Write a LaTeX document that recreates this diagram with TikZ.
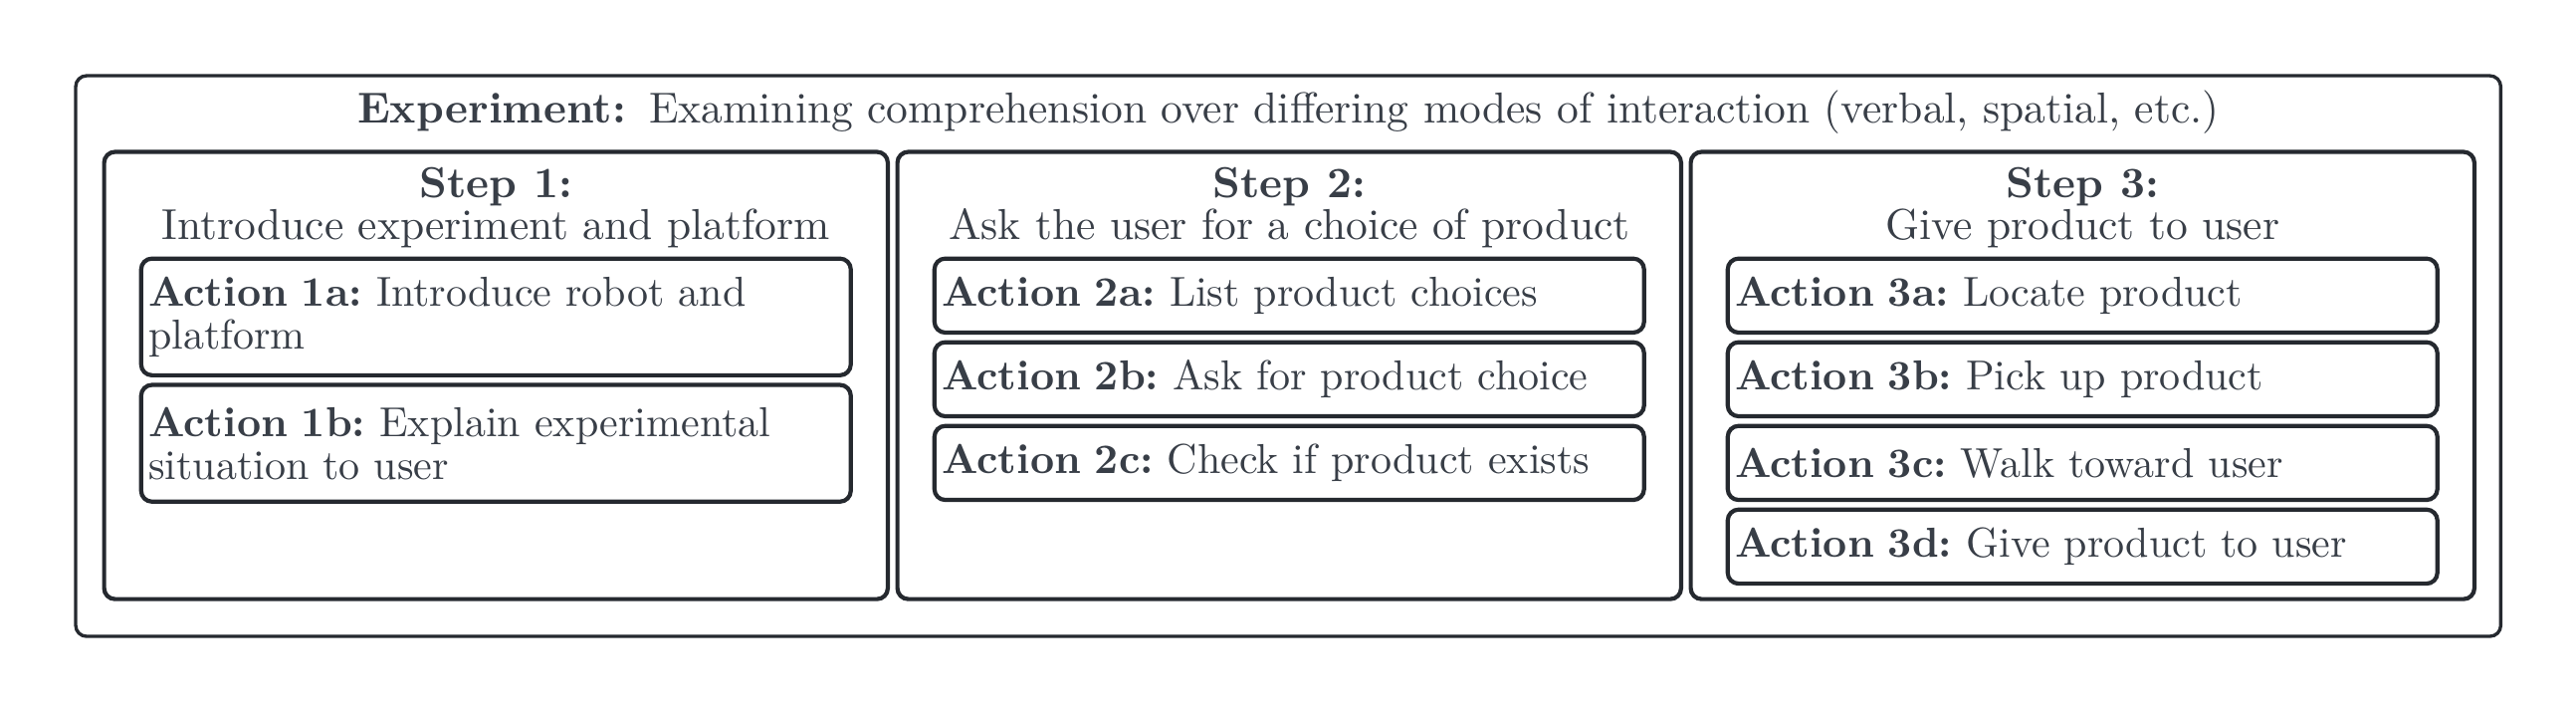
\documentclass[tikz,border=0pt]{standalone}
\usepackage{fontspec}
\usepackage{tikz}
\usetikzlibrary{positioning}
\definecolor{expLine}{HTML}{25292F}
\definecolor{expText}{HTML}{383E47}
\frenchspacing

\begin{document}
\begin{tikzpicture}[
    node distance=1.3pt,
    every node/.style={text=expText},
    frame/.style={rectangle, rounded corners=2.6pt, draw=expLine, line width=1pt,
                  inner sep=0pt},
    stepbox/.style={frame, minimum width=187.4pt, minimum height=106.9pt},
    steptitle/.style={align=center, inner sep=0pt, anchor=north,
                      font=\fontsize{10.35pt}{10pt}\selectfont},
    act/.style={frame, minimum width=169.7pt, minimum height=17.7pt,
                text width=166.2pt, align=left, inner xsep=1.75pt,
                font=\fontsize{10pt}{10.2pt}\selectfont},
    actbig/.style={act, minimum height=27.9pt},
  ]
    \useasboundingbox (0,0) rectangle (616pt,-169.8pt);

    % outer frame and title
    \node[frame, line width=0.8pt, minimum width=579.9pt, minimum height=134pt, anchor=north west]
      (exp) at (17.7pt,-17.7pt) {};
    \node[inner sep=0pt, font=\fontsize{10.35pt}{10.4pt}\selectfont] (exptitle) at ([yshift=-9pt]exp.north)
      {\textbf{Experiment:}\hspace{5.5pt}Examining comprehension over differing modes of interaction (verbal, spatial, etc.)};

    % steps
    \node[stepbox, anchor=north west] (s1) at (24.4pt,-35.8pt) {};
    \node[stepbox, right=of s1] (s2) {};
    \node[stepbox, right=of s2] (s3) {};

    \node[steptitle] (t1) at ([yshift=-4.1pt]s1.north) {\textbf{Step 1:}\\Introduce experiment and platform};
    \node[steptitle] (t2) at ([yshift=-4.1pt]s2.north) {\textbf{Step 2:}\\Ask the user for a choice of product};
    \node[steptitle] (t3) at ([yshift=-4.1pt]s3.north) {\textbf{Step 3:}\\Give product to user};

    % actions of step 1
    \node[actbig, anchor=north] (a1a) at ([yshift=-25.5pt]s1.north) {\textbf{Action 1a:} Introduce robot and platform};
    \node[actbig, below=of a1a] (a1b) {\textbf{Action 1b:} Explain experimental situation to user};

    % actions of step 2
    \node[act, anchor=north] (a2a) at ([yshift=-25.5pt]s2.north) {\textbf{Action 2a:} List product choices};
    \node[act, below=of a2a] (a2b) {\textbf{Action 2b:} Ask for product choice};
    \node[act, below=of a2b] (a2c) {\textbf{Action 2c:} Check if product exists};

    % actions of step 3
    \node[act, anchor=north] (a3a) at ([yshift=-25.5pt]s3.north) {\textbf{Action 3a:} Locate product};
    \node[act, below=of a3a] (a3b) {\textbf{Action 3b:} Pick up product};
    \node[act, below=of a3b] (a3c) {\textbf{Action 3c:} Walk toward user};
    \node[act, below=of a3c] (a3d) {\textbf{Action 3d:} Give product to user};
  \end{tikzpicture}
\end{document}
